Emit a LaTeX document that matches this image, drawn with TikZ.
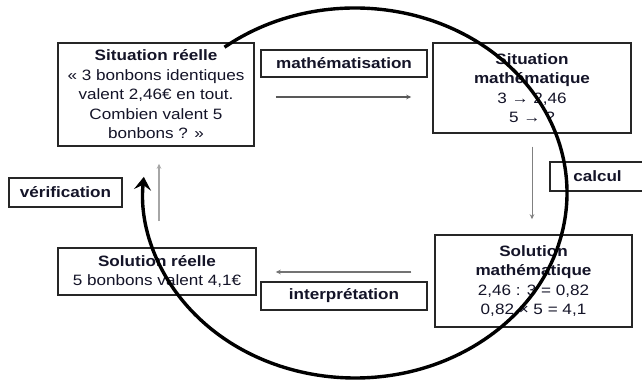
\documentclass[tikz,border=0pt]{standalone}
\usepackage{fontspec}
\setmainfont[FakeStretch=1.14]{Liberation Sans}
\usetikzlibrary{arrows.meta,calc}
\definecolor{txt}{HTML}{141428}
\definecolor{frame}{HTML}{262626}
\begin{document}
\begin{tikzpicture}[x=1pt,y=1pt,
  box/.style={draw=frame, line width=1.5pt, fill=white, inner sep=0pt, align=center, text=txt, font=\fontsize{15}{19.5}\selectfont},
  lbl/.style={draw=frame, line width=1.5pt, fill=white, inner sep=0pt, text=txt, font=\fontsize{15}{18}\selectfont\bfseries},
  garrow/.style={-{Stealth[length=5pt,width=4.5pt]}, line width=1.1pt},
  cycle/.style={line width=3.4pt, -{Stealth[length=13pt,width=17pt,inset=5pt]}}]
\useasboundingbox (0,0) rectangle (642,382);
\fill[white] (0,0) rectangle (642,382);
% main boxes
\node[box, minimum width=196pt, minimum height=103pt] (b1) at (156,287.5)
  {\textbf{Situation réelle}\\« 3 bonbons identiques\\valent 2,46€ en tout.\\Combien valent 5\\bonbons ? »};
\node[box, minimum width=198pt, minimum height=90pt] (b2) at (532,294)
  {\textbf{Situation}\\\textbf{mathématique}\\3 → 2,46\\5 → ?};
\node[box, minimum width=197pt, minimum height=92pt] (b3) at (533.5,101)
  {\textbf{Solution}\\\textbf{mathématique}\\2,46 : 3 = 0,82\\0,82 × 5 = 4,1};
\node[box, minimum width=198pt, minimum height=47pt] (b4) at (157,110.5)
  {\textbf{Solution réelle}\\5 bonbons valent 4,1€};
% labels
\node[lbl, minimum width=166pt, minimum height=27pt] (l1) at (344,318.5) {mathématisation};
\node[lbl, minimum width=166pt, minimum height=28pt] (l2) at (344,86) {interprétation};
\node[lbl, minimum width=113pt, minimum height=29pt] (l3) at (65.5,189.5) {vérification};
\node[lbl, minimum width=95pt, minimum height=29pt] (l4) at (597.5,205.5) {calcul};
% arrows between boxes
\draw[garrow, draw=black!65, shorten <=21pt, shorten >=21pt] (b1.east |- 0,285) -- (b2.west |- 0,285);
\draw[garrow, draw=black!50, line width=0.9pt, shorten <=13pt, shorten >=15pt] (b2.south) -- (b3.north -| b2.south);
\draw[garrow, draw=black!55, shorten <=23pt, shorten >=19pt] (b3.west |- 0,110) -- (b4.east |- 0,110);
\draw[garrow, draw=black!35, line width=1.8pt, shorten <=26pt, shorten >=17pt] (b4.north -| 159,0) -- (b1.south -| 159,0);
% cycle
\coordinate (c) at (355,189);
\draw[cycle] ($(c)+(128:212 and 185)$) arc[start angle=128, end angle=-185, x radius=212, y radius=185];
\end{tikzpicture}
\end{document}
